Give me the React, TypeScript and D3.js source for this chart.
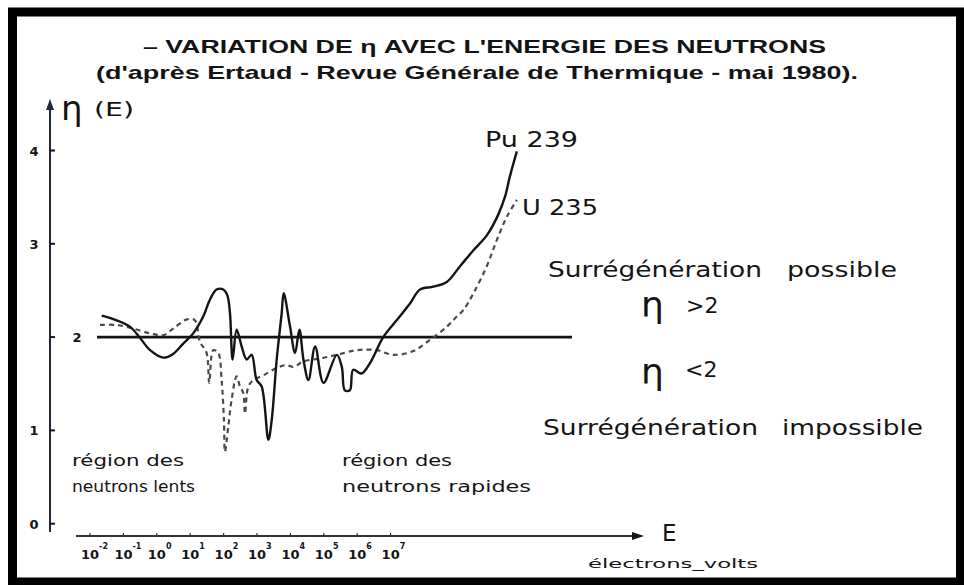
import * as d3 from "d3";
import { useEffect } from "react";

// log10(E) positions and eta values
const puLogE = [-1.65, -1.2, -0.8, -0.5, -0.2, 0.19, 0.49, 0.79, 1.09, 1.39, 1.59, 1.79, 1.99, 2.11, 2.19, 2.27, 2.39, 2.54, 2.69, 2.84, 2.99, 3.14, 3.34, 3.44, 3.59, 3.74, 3.8, 3.99, 4.14, 4.27, 4.39, 4.54, 4.74, 4.99, 5.39, 5.54, 5.63, 5.78, 5.88, 6.13, 6.38, 6.78, 7.18, 7.58, 7.88, 8.28, 8.68, 9.08, 9.48, 9.88, 10.22, 10.43, 10.57, 10.78];
const puEta = [2.23, 2.18, 2.11, 1.99, 1.86, 1.78, 1.82, 1.93, 2.04, 2.22, 2.4, 2.51, 2.51, 2.45, 2.26, 1.76, 2.08, 1.9, 1.76, 1.81, 1.54, 1.47, 0.9, 1.11, 1.76, 2.26, 2.47, 2.11, 1.83, 2.08, 1.76, 1.54, 1.9, 1.51, 1.81, 1.68, 1.43, 1.43, 1.65, 1.61, 1.72, 2.0, 2.18, 2.36, 2.51, 2.54, 2.59, 2.76, 2.93, 3.09, 3.31, 3.51, 3.72, 3.99];

const uLogE = [-1.7, -1.2, -0.7, -0.2, 0.19, 0.49, 0.9, 1.14, 1.29, 1.49, 1.57, 1.69, 1.84, 1.94, 2.01, 2.04, 2.14, 2.24, 2.39, 2.49, 2.59, 2.64, 2.74, 2.89, 3.19, 3.59, 3.89, 4.09, 4.39, 4.89, 5.39, 5.99, 6.58, 7.08, 7.68, 8.18, 8.68, 8.98, 9.18, 9.48, 9.88, 10.18, 10.48, 10.78];
const uEta = [2.13, 2.13, 2.09, 2.04, 2.02, 2.09, 2.19, 2.18, 1.95, 1.83, 1.51, 1.86, 1.83, 1.54, 1.11, 0.77, 1.04, 1.33, 1.58, 1.47, 1.4, 1.18, 1.47, 1.54, 1.59, 1.67, 1.7, 1.68, 1.74, 1.77, 1.81, 1.86, 1.86, 1.81, 1.85, 1.97, 2.11, 2.22, 2.29, 2.47, 2.76, 3.04, 3.29, 3.47];

const xExponents = [-2, -1, 0, 1, 2, 3, 4, 5, 6, 7];
const yTicks = [0, 1, 2, 3, 4];
const threshold = 2;
const thresholdRange = [-1.79, 12.43];

const W = 964;
const H = 585;

const ink = "#141414";
const font = "'DejaVu Sans', sans-serif";

export default function App() {
  useEffect(() => {
    document.body.style.margin = "0";
  }, []);

  const x = d3.scaleLinear().domain([-2, 7]).range([90, 390.6]);
  const y = d3.scaleLinear().domain([0, 4]).range([523.7, 150.5]);

  const line = d3
    .line<[number, number]>()
    .x((d) => x(d[0]))
    .y((d) => y(d[1]))
    .curve(d3.curveCatmullRom.alpha(0.5));

  const puPath = line(puLogE.map((e, i) => [e, puEta[i]]));
  const uPath = line(uLogE.map((e, i) => [e, uEta[i]]));

  const axisX = 50;
  const axisY = 536;

  return (
    <svg width={W} height={H} style={{ display: "block", background: "#fff" }}>
      {/* frame */}
      <rect x={12.5} y={12} width={948} height={570} fill="none" stroke="#000" strokeWidth={9} />

      {/* title */}
      <text x={143} y={53} fontFamily="'Liberation Sans', Arial, sans-serif" fontWeight="bold" fontSize={19}
        textLength={683} lengthAdjust="spacingAndGlyphs" fill={ink}>
        – VARIATION DE η AVEC L'ENERGIE DES NEUTRONS
      </text>
      <text x={96} y={79} fontFamily="'Liberation Sans', Arial, sans-serif" fontWeight="bold" fontSize={19}
        textLength={762} lengthAdjust="spacingAndGlyphs" fill={ink}>
        (d'après Ertaud - Revue Générale de Thermique - mai 1980).
      </text>

      {/* y axis */}
      <line x1={axisX} x2={axisX} y1={532} y2={108} stroke="#1f2a36" strokeWidth={2} />
      <path d={`M${axisX - 4},${110} L${axisX},${99} L${axisX + 4},${110} Z`} fill="#1f2a36" />
      {yTicks.map((t) => (
        <g key={t}>
          <line x1={axisX} x2={axisX + 5} y1={y(t)} y2={y(t)} stroke={ink} strokeWidth={2} />
          <text x={t === 2 ? 77 : 34} y={y(t) + 5} textAnchor="middle" fontFamily={font} fontSize={13}
            fontWeight="bold" fill={ink}>
            {t}
          </text>
        </g>
      ))}
      <text x={61} y={120} fontFamily={font} fontSize={34} fill={ink}>η</text>
      <text x={94} y={116} fontFamily={font} fontSize={19} textLength={40} lengthAdjust="spacingAndGlyphs"
        fill={ink}>(E)</text>

      {/* x axis */}
      <line x1={76} x2={636} y1={axisY} y2={axisY} stroke="#333" strokeWidth={1.8} />
      <path d={`M${632},${axisY - 4} L${644},${axisY} L${632},${axisY + 4} Z`} fill={ink} />
      {xExponents.map((n) => (
        <g key={n}>
          <line x1={x(n)} x2={x(n)} y1={axisY - 3} y2={axisY} stroke="#333" strokeWidth={1.2} />
          <text x={x(n) - 9} y={559} fontFamily={font} fontSize={13} fontWeight="bold" fill={ink}>
            10
            <tspan dy={-10} fontSize={8}>{n < 0 ? `-${-n}` : n}</tspan>
          </text>
        </g>
      ))}
      <text x={662} y={541} fontFamily={font} fontSize={23} fill={ink}>E</text>
      <text x={588} y={568} fontFamily={font} fontSize={12} textLength={170} lengthAdjust="spacingAndGlyphs"
        fill={ink}>
        électrons_volts
      </text>

      {/* threshold eta = 2 */}
      <line x1={x(thresholdRange[0])} x2={x(thresholdRange[1])} y1={y(threshold)} y2={y(threshold)}
        stroke={ink} strokeWidth={2.6} />

      {/* curves */}
      <path d={uPath ?? ""} fill="none" stroke="#4a4a4a" strokeWidth={2.2} strokeDasharray="5 4" />
      <path d={puPath ?? ""} fill="none" stroke={ink} strokeWidth={2.4} strokeLinejoin="round" />

      {/* curve labels */}
      <text x={485} y={147} fontFamily={font} fontSize={22} textLength={93} lengthAdjust="spacingAndGlyphs"
        fill={ink}>
        Pu 239
      </text>
      <text x={522} y={215} fontFamily={font} fontSize={22} textLength={76} lengthAdjust="spacingAndGlyphs"
        fill={ink}>
        U 235
      </text>

      {/* regions */}
      <text x={548} y={277} fontFamily={font} fontSize={21} textLength={214} lengthAdjust="spacingAndGlyphs" fill={ink}>
        Surrégénération
      </text>
      <text x={787} y={277} fontFamily={font} fontSize={21} textLength={110} lengthAdjust="spacingAndGlyphs" fill={ink}>
        possible
      </text>
      <text x={641} y={317} fontFamily={font} fontSize={36} fill={ink}>η</text>
      <text x={686} y={313} fontFamily={font} fontSize={22} fill={ink}>&gt;2</text>
      <text x={641} y={384} fontFamily={font} fontSize={36} fill={ink}>η</text>
      <text x={685} y={377} fontFamily={font} fontSize={22} fill={ink}>&lt;2</text>
      <text x={543} y={435} fontFamily={font} fontSize={21} textLength={215} lengthAdjust="spacingAndGlyphs" fill={ink}>
        Surrégénération
      </text>
      <text x={782} y={435} fontFamily={font} fontSize={21} textLength={141} lengthAdjust="spacingAndGlyphs" fill={ink}>
        impossible
      </text>

      <g fontFamily={font} fontSize={15} fill={ink}>
        <text x={72} y={466} textLength={112} lengthAdjust="spacingAndGlyphs">région des</text>
        <text x={72} y={492} textLength={123} lengthAdjust="spacingAndGlyphs">neutrons lents</text>
        <text x={342} y={466} textLength={110} lengthAdjust="spacingAndGlyphs">région des</text>
        <text x={342} y={492} textLength={189} lengthAdjust="spacingAndGlyphs">neutrons rapides</text>
      </g>
    </svg>
  );
}
